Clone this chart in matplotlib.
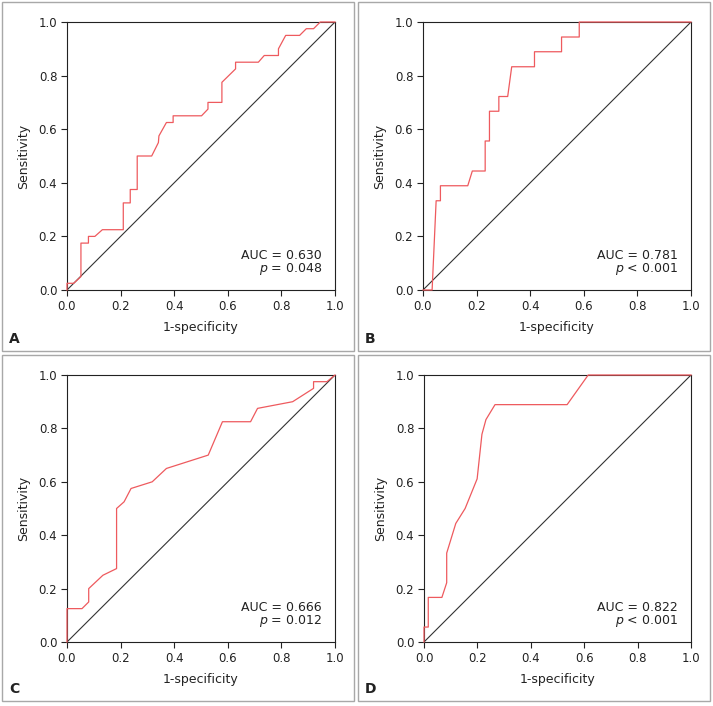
import matplotlib
matplotlib.use("Agg")
import matplotlib.pyplot as plt
from matplotlib.patches import Rectangle

plt.rcParams["font.family"] = ["Liberation Sans Narrow", "DejaVu Sans"]

# ROC curves (1-specificity, sensitivity)
fpr_a = [0, 0, 0.025, 0.052, 0.052, 0.080, 0.080, 0.104, 0.132, 0.210, 0.210, 0.236, 0.236,
         0.262, 0.262, 0.316, 0.341, 0.343, 0.371, 0.396, 0.396, 0.502, 0.526, 0.526, 0.578,
         0.578, 0.629, 0.629, 0.714, 0.736, 0.789, 0.789, 0.816, 0.868, 0.893, 0.920, 0.945, 1.0]
tpr_a = [0, 0.025, 0.025, 0.05, 0.175, 0.175, 0.2, 0.2, 0.225, 0.225, 0.325, 0.325, 0.375,
         0.375, 0.5, 0.5, 0.55, 0.575, 0.625, 0.625, 0.65, 0.65, 0.675, 0.7, 0.7,
         0.775, 0.825, 0.85, 0.85, 0.875, 0.875, 0.9, 0.95, 0.95, 0.975, 0.975, 1.0, 1.0]

fpr_b = [0, 0.034, 0.049, 0.065, 0.065, 0.167, 0.184, 0.232, 0.232, 0.248, 0.248, 0.283,
         0.283, 0.316, 0.331, 0.416, 0.416, 0.517, 0.517, 0.583, 0.583, 1.0]
tpr_b = [0, 0, 0.333, 0.333, 0.389, 0.389, 0.444, 0.444, 0.556, 0.556, 0.667, 0.667,
         0.722, 0.722, 0.833, 0.833, 0.889, 0.889, 0.944, 0.944, 1.0, 1.0]

fpr_c = [0, 0, 0.056, 0.081, 0.081, 0.134, 0.185, 0.185, 0.213, 0.239, 0.318, 0.371, 0.527,
         0.580, 0.685, 0.711, 0.842, 0.920, 0.920, 0.970, 1.0]
tpr_c = [0, 0.125, 0.125, 0.15, 0.2, 0.25, 0.275, 0.5, 0.525, 0.575, 0.6, 0.65, 0.7,
         0.825, 0.825, 0.875, 0.9, 0.95, 0.975, 0.975, 1.0]

fpr_d = [0, 0, 0.016, 0.016, 0.067, 0.085, 0.085, 0.119, 0.154, 0.199, 0.217, 0.232, 0.266,
         0.536, 0.615, 1.0]
tpr_d = [0, 0.056, 0.056, 0.167, 0.167, 0.222, 0.333, 0.444, 0.5, 0.611, 0.778, 0.833,
         0.889, 0.889, 1.0, 1.0]

panels = ["A", "B", "C", "D"]
auc_text = ["AUC = 0.630", "AUC = 0.781", "AUC = 0.666", "AUC = 0.822"]
p_text = ["= 0.048", "< 0.001", "= 0.012", "< 0.001"]
curves = [(fpr_a, tpr_a), (fpr_b, tpr_b), (fpr_c, tpr_c), (fpr_d, tpr_d)]
ticks = [0.0, 0.2, 0.4, 0.6, 0.8, 1.0]

W, H = 713, 706
fig = plt.figure(figsize=(W / 100, H / 100), dpi=100)

# pixel layout: axes boxes and panel frames (left, top, right, bottom)
ax_px = [(67, 22, 335, 290), (423, 22, 691, 290), (67, 375, 335, 642), (424, 375, 691, 642)]
fr_px = [(2, 2, 354, 351), (358, 2, 710, 351), (2, 355, 354, 701), (358, 355, 710, 701)]

RED = "#ee5a5e"
for i, name in enumerate(panels):
    fl, ft, fr, fb = fr_px[i]
    fig.patches.append(Rectangle((fl / W, 1 - fb / H), (fr - fl) / W, (fb - ft) / H,
                                 transform=fig.transFigure, fill=False,
                                 edgecolor="#a8a8a8", lw=1.0))
    l, t, r, b = ax_px[i]
    ax = fig.add_axes([l / W, 1 - b / H, (r - l) / W, (b - t) / H])
    ax.plot([0, 1], [0, 1], color="#333333", lw=0.8)
    ax.plot(curves[i][0], curves[i][1], color=RED, lw=0.9, zorder=3, clip_on=False)
    ax.set_xlim(0, 1)
    ax.set_ylim(0, 1)
    ax.set_xticks(ticks)
    ax.set_yticks(ticks)
    ax.set_xticklabels([f"{v:.1f}" for v in ticks])
    ax.set_yticklabels([f"{v:.1f}" for v in ticks])
    ax.tick_params(direction="out", length=4, width=0.8, labelsize=8.5, pad=3,
                   colors="#222222", top=False, right=False)
    for s in ax.spines.values():
        s.set_linewidth(0.8)
        s.set_color("#222222")
        s.set_zorder(2)
    ax.set_xlabel("1-specificity", fontsize=9, labelpad=6, color="#222222")
    ax.set_ylabel("Sensitivity", fontsize=9, labelpad=6, color="#222222")
    ax.text(0.951, 0.13, auc_text[i], transform=ax.transAxes, ha="right", va="center",
            fontsize=9, color="#222222")
    ax.text(0.951, 0.078, r"$\it{p}$ " + p_text[i], transform=ax.transAxes, ha="right",
            va="center", fontsize=9, color="#222222")
    fig.text((fl + 12) / W, 1 - (fb - 12) / H, name, ha="center", va="center",
             fontsize=10, fontweight="bold", color="#222222")

fig.savefig("out.png", dpi=100)
